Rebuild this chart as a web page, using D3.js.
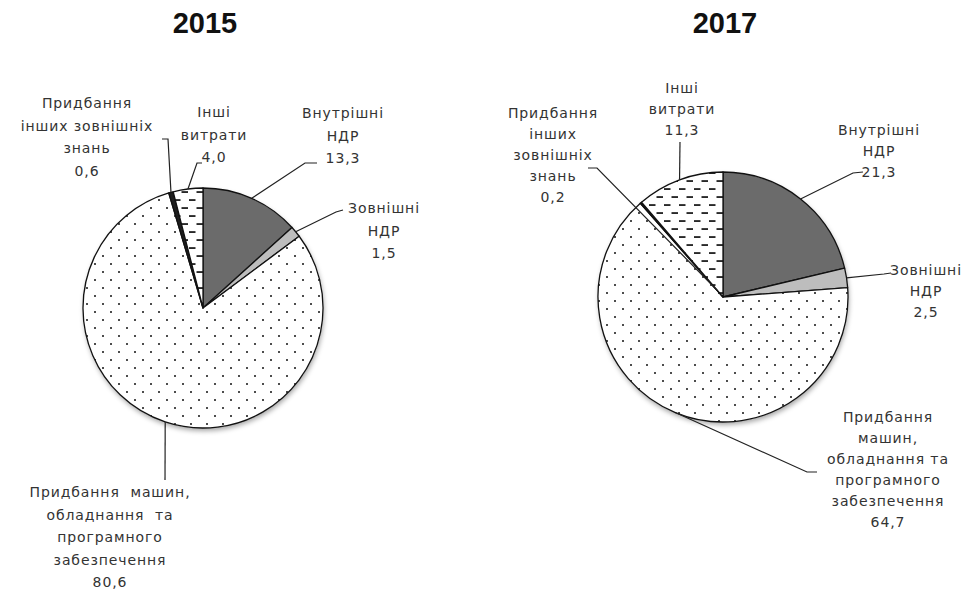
<!DOCTYPE html>
<html>
<head>
<meta charset="utf-8">
<script src="https://cdn.jsdelivr.net/npm/d3@7"></script>
<style>
  body { margin: 0; background: #fff; }
  text { font-family: "Liberation Sans", Arial, sans-serif; white-space: pre; }
  text.lbl { font-family: "DejaVu Sans", sans-serif; }
</style>
</head>
<body>
<svg id="chart"></svg>
<script>
// дані
var categories = ['Внутрішні НДР', 'Зовнішні НДР',
	'Придбання машин, обладнання та програмного забезпечення',
	'Придбання інших зовнішніх знань', 'Інші витрати'];
var years = ['2015', '2017'];
var values2015 = [13.3, 1.5, 80.6, 0.6, 4.0];
var values2017 = [21.3, 2.5, 64.7, 0.2, 11.3];

// підписи по рядках
var lines2015 = [['Внутрішні', 'НДР'], ['Зовнішні', 'НДР'],
	['Придбання  машин,', 'обладнання  та', 'програмного', 'забезпечення'],
	['Придбання', 'інших зовнішніх', 'знань'], ['Інші', 'витрати']];
var lines2017 = [['Внутрішні', 'НДР'], ['Зовнішні', 'НДР'],
	['Придбання', 'машин,', 'обладнання та', 'програмного', 'забезпечення'],
	['Придбання', 'інших', 'зовнішніх', 'знань'], ['Інші', 'витрати']];

// -------------------------------------------------------

var width = 966;
var height = 589;
var fills = ['#6b6b6b', '#bdbdbd', 'url(#dots)', '#1e1e1e', 'url(#dashes)'];

// розміщення підписів (центр першого рядка, точки виноски)
var layouts = [
	{'cx': 203, 'cy': 308, 'r': 120, 'lineH': 22.5,
	 'labels': [
		{'x': 343, 'y': 118, 'leader': [[305, 163], [317, 163]]},
		{'x': 384, 'y': 213, 'leader': [[336, 212], [343, 210]]},
		{'x': 110, 'y': 497, 'leader': [[165, 480]]},
		{'x': 87, 'y': 108, 'leader': [[168, 139], [162, 139]]},
		{'x': 214, 'y': 117, 'leader': [[197, 163], [202, 163]]}
	 ]},
	{'cx': 723, 'cy': 297, 'r': 125, 'lineH': 21,
	 'labels': [
		{'x': 879, 'y': 135, 'leader': [[853, 173], [863, 172]]},
		{'x': 926, 'y': 275, 'leader': [[884, 274], [891, 273]]},
		{'x': 888, 'y': 422, 'leader': [[807, 472], [817, 472]]},
		{'x': 553, 'y': 118, 'leader': [[597, 168], [588, 168]], 'inner': 9},
		{'x': 682, 'y': 93, 'leader': [[680, 142]]}
	 ]}
];

var svg = d3.select('#chart')
	.attr('width', width)
	.attr('height', height);

svg.append('rect')
	.attr('width', width)
	.attr('height', height)
	.attr('fill', '#fff');

var defs = svg.append('defs');

var dots = defs.append('pattern')
	.attr('id', 'dots')
	.attr('patternUnits', 'userSpaceOnUse')
	.attr('width', 16)
	.attr('height', 16);
dots.append('rect').attr('width', 16).attr('height', 16).attr('fill', '#fff');
dots.append('circle').attr('cx', 4).attr('cy', 4).attr('r', 1).attr('fill', '#111');
dots.append('circle').attr('cx', 12).attr('cy', 12).attr('r', 1).attr('fill', '#111');

var dashes = defs.append('pattern')
	.attr('id', 'dashes')
	.attr('patternUnits', 'userSpaceOnUse')
	.attr('width', 15)
	.attr('height', 16);
dashes.append('rect').attr('width', 15).attr('height', 16).attr('fill', '#fff');
dashes.append('rect').attr('x', 1).attr('y', 3.2).attr('width', 6.5).attr('height', 1.7).attr('fill', '#111');
dashes.append('rect').attr('x', 8.5).attr('y', 11.2).attr('width', 6.5).attr('height', 1.7).attr('fill', '#111');

var shadow = defs.append('filter')
	.attr('id', 'shadow')
	.attr('x', '-20%').attr('y', '-20%')
	.attr('width', '140%').attr('height', '140%');
shadow.append('feDropShadow')
	.attr('dx', 1).attr('dy', 3)
	.attr('stdDeviation', 2.5)
	.attr('flood-color', '#000')
	.attr('flood-opacity', 0.35);

var pie = d3.pie().sort(null).value(function(d) { return d; });
var fmt = function(v) { return d3.format('.1f')(v).replace('.', ','); };

function draw_pie(i, values, lines) {
	var lay = layouts[i];
	var arcs = pie(values);

	var arc = d3.arc().innerRadius(0).outerRadius(lay.r);
	var edge = d3.arc().innerRadius(lay.r).outerRadius(lay.r);

	var g = svg.append('g')
		.attr('transform', 'translate(' + lay.cx + ',' + lay.cy + ')');

	g.append('circle')
		.attr('r', lay.r)
		.attr('fill', '#fff')
		.attr('filter', 'url(#shadow)');

	g.selectAll('path.slice')
		.data(arcs).enter()
		.append('path')
		.attr('class', 'slice')
		.attr('d', arc)
		.attr('fill', function(d, j) { return fills[j]; })
		.attr('stroke', '#111')
		.attr('stroke-width', 1.3)
		.attr('stroke-linejoin', 'round');

	// виноски
	svg.selectAll(null)
		.data(arcs).enter()
		.append('path')
		.attr('d', function(d, j) {
			var lab = lay.labels[j];
			var p;
			if (lab.inner) {
				p = d3.arc().innerRadius(lab.inner).outerRadius(lab.inner).centroid(d);
			} else {
				p = edge.centroid(d);
			}
			var pts = [[lay.cx + p[0], lay.cy + p[1]]].concat(lab.leader);
			return d3.line()(pts);
		})
		.attr('fill', 'none')
		.attr('stroke', '#222')
		.attr('stroke-width', 1.2);

	// підписи
	var labels = svg.selectAll(null)
		.data(arcs).enter()
		.append('text')
		.attr('class', 'lbl')
		.attr('text-anchor', 'middle')
		.attr('font-size', '14px')
		.attr('letter-spacing', '0.9px')
		.attr('fill', '#333')
		.attr('x', function(d, j) { return lay.labels[j].x; })
		.attr('y', function(d, j) { return lay.labels[j].y; });

	labels.each(function(d, j) {
		var t = d3.select(this);
		var rows = lines[j].concat([fmt(d.data)]);
		rows.forEach(function(row, k) {
			t.append('tspan')
				.attr('x', lay.labels[j].x)
				.attr('dy', k == 0 ? 0 : lay.lineH)
				.text(row);
		});
	});

	svg.append('text')
		.attr('x', lay.cx + 2)
		.attr('y', 33)
		.attr('text-anchor', 'middle')
		.attr('font-size', '29px')
		.attr('font-weight', 'bold')
		.attr('fill', '#111')
		.text(years[i]);
}

draw_pie(0, values2015, lines2015);
draw_pie(1, values2017, lines2017);
</script>
</body>
</html>
